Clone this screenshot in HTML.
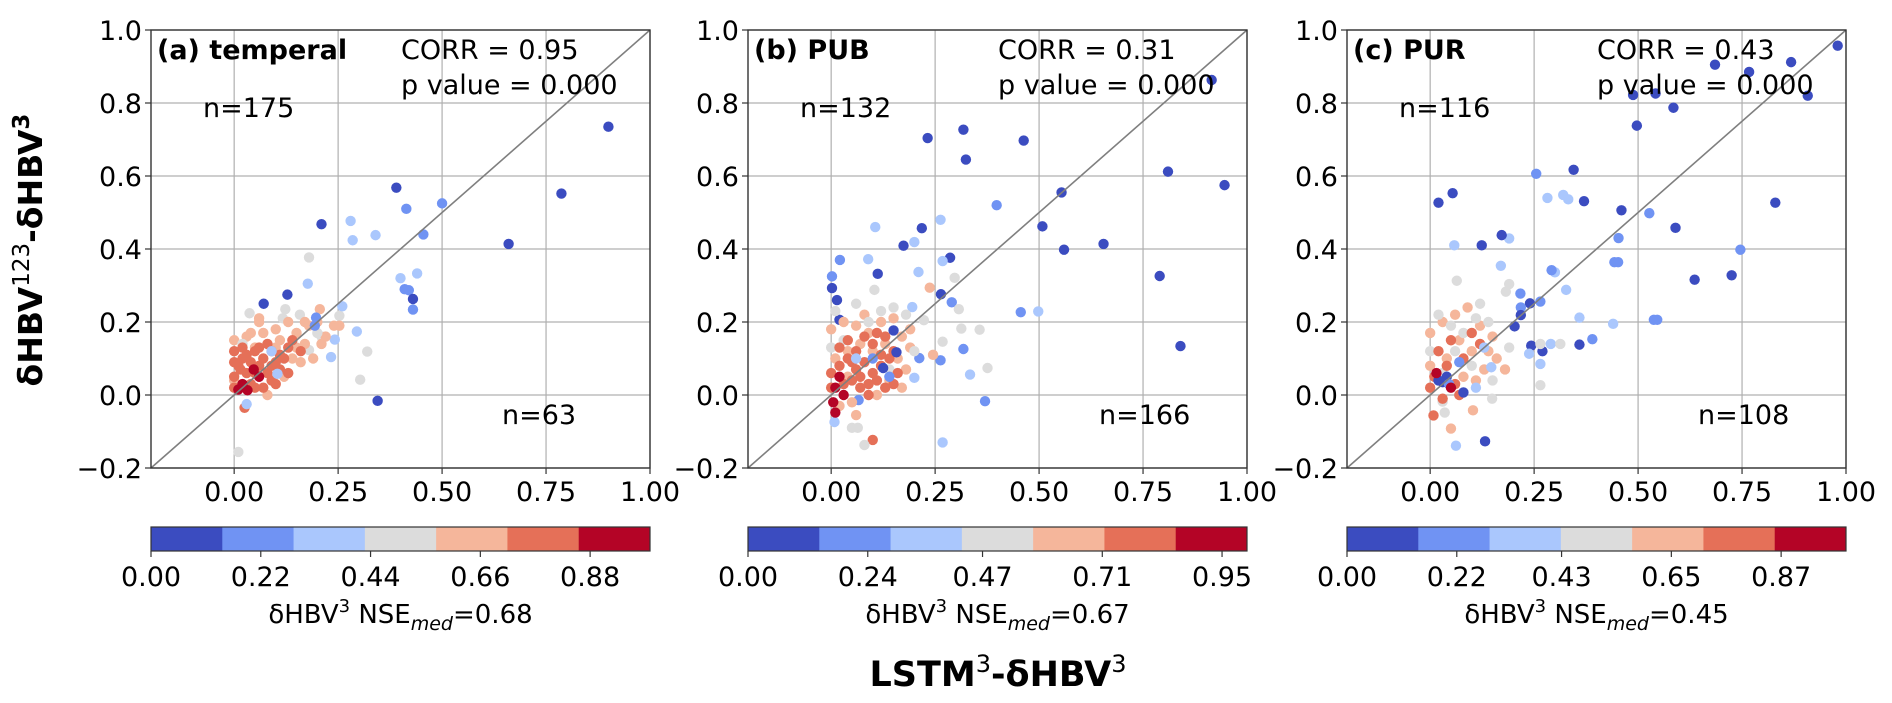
<!DOCTYPE html>
<html><head><meta charset="utf-8">
<style>
html,body{margin:0;padding:0;background:#fff;}
svg{display:block;font-family:"DejaVu Sans","Liberation Sans",sans-serif;}
</style></head>
<body>
<svg id="fig" width="1892" height="703" viewBox="0 0 1892 703" xmlns="http://www.w3.org/2000/svg">
<text x="0" y="0" transform="translate(42,250) rotate(-90)" text-anchor="middle" font-size="33" font-weight="bold" fill="#000">δHBV<tspan font-weight="normal" font-size="23" dy="-13">123</tspan><tspan dy="13">-δHBV</tspan><tspan font-size="23" dy="-13">3</tspan></text>
<text x="998" y="686" text-anchor="middle" font-size="35" font-weight="bold" fill="#000">LSTM<tspan font-size="24" font-weight="normal" dy="-14">3</tspan><tspan dy="14">-δHBV</tspan><tspan font-size="24" font-weight="normal" dy="-14">3</tspan></text>
</svg>
<script>
const colors = ["#3b4cc0","#7093f3","#aac7fd","#dcdcdc","#f5b69b","#e57058","#b40426"];
const xTicks = [0, 0.25, 0.5, 0.75, 1.0];
const xTickLabels = ["0.00","0.25","0.50","0.75","1.00"];
const yTicks = [-0.2, 0, 0.2, 0.4, 0.6, 0.8, 1.0];
const yTickLabels = ["\u22120.2","0.0","0.2","0.4","0.6","0.8","1.0"];
const panelTitles = ["(a) temperal","(b) PUB","(c) PUR"];
const corrLabels = ["CORR = 0.95","CORR = 0.31","CORR = 0.43"];
const pLabels = ["p value = 0.000","p value = 0.000","p value = 0.000"];
const nUpper = ["n=175","n=132","n=116"];
const nLower = ["n=63","n=166","n=108"];
const cbTicksA = [0,0.22,0.44,0.66,0.88];
const cbTicksB = [0,0.24,0.47,0.71,0.95];
const cbTicksC = [0,0.22,0.43,0.65,0.87];
const cbLabels = ["0.68","0.67","0.45"];

// [x, y, colorClass]
const pointsA = [
[0.90,0.735,0],[0.787,0.552,0],[0.66,0.414,0],[0.39,0.568,0],[0.414,0.51,1],[0.50,0.525,1],[0.455,0.44,1],[0.21,0.468,0],[0.28,0.477,2],[0.285,0.424,2],[0.34,0.438,2],[0.40,0.32,2],[0.44,0.333,2],[0.41,0.29,1],[0.42,0.287,1],[0.43,0.263,0],[0.43,0.234,1],[0.345,-0.016,0],[0.18,0.377,3],[0.177,0.305,2],[0.128,0.275,0],[0.071,0.25,0],[0.037,0.224,3],[0.123,0.235,3],[0.117,0.21,3],[0.158,0.22,3],[0.253,0.217,3],[0.295,0.174,2],[0.242,0.152,2],[0.233,0.104,2],[0.21,0.16,3],[0.32,0.119,3],[0.303,0.042,3],[0.18,0.123,3],[0.01,-0.156,3],
[0.0,0.15,4],[0.03,0.16,4],[0.07,0.17,4],[0.1,0.18,4],[0.13,0.2,4],[0.15,0.17,4],[0.18,0.19,4],[0.2,0.2,4],[0.22,0.16,4],[0.24,0.19,4],[0.206,0.235,4],[0.17,0.14,4],[0.14,0.1,4],[0.11,0.15,4],[0.06,0.2,4],[0.04,0.17,4],[0.21,0.14,4],[0.19,0.1,4],[0.16,0.09,4],[0.12,0.05,4],[0.08,0.0,4],[0.05,0.13,4],[0.1,0.13,4],[0.253,0.19,4],[0.0,0.04,4],[0.17,0.2,4],[0.06,0.21,4],[0.15,0.13,4],[0.02,0.14,3],[0.11,0.1,3],[0.2,0.17,3],
[0,0.05,5],[0.01,0.08,5],[0.02,0.1,5],[0.03,0.06,5],[0.04,0.09,5],[0.05,0.12,5],[0.0,0.12,5],[0.06,0.08,5],[0.07,0.1,5],[0.08,0.06,5],[0.09,0.04,5],[0.1,0.09,5],[0.11,0.07,5],[0.12,0.1,5],[0.02,0.13,5],[0.04,0.03,5],[0.07,0.02,5],[0.09,0.12,5],[0.13,0.13,5],[0.05,0.02,5],[0.0,0.09,5],[0.03,0.11,5],[0.08,0.14,5],[0.1,0.03,5],[0.06,0.13,5],[0.015,0.07,5],[0.11,0.11,5],[0.025,-0.035,5],[0.14,0.15,5],[0.16,0.12,5],[0.09,0.08,5],[0.0,0.02,5],[0.05,0.06,5],[0.13,0.06,5],
[0.194,0.19,1],[0.197,0.212,1],[0.26,0.243,2],[0.104,0.058,2],[0.09,0.12,2],[0.03,-0.025,2],
[0.01,0.015,6],[0.032,0.013,6],[0.047,0.07,6],[0.02,0.03,6],[0.06,0.05,6]
];
const pointsB = [
[0.915,0.863,0],[0.946,0.575,0],[0.81,0.612,0],[0.79,0.326,0],[0.84,0.134,0],[0.655,0.414,0],[0.554,0.555,0],[0.56,0.398,0],[0.508,0.462,0],[0.463,0.697,0],[0.318,0.727,0],[0.324,0.645,0],[0.232,0.704,0],[0.218,0.457,0],[0.174,0.409,0],[0.286,0.376,0],[0.398,0.52,1],[0.498,0.229,2],[0.456,0.227,1],[0.263,0.48,2],[0.2,0.419,2],[0.106,0.46,2],[0.021,0.37,1],[0.089,0.372,2],[0.112,0.332,0],[0.002,0.325,1],[0.002,0.293,0],[0.014,0.26,0],[0.02,0.206,0],[0.104,0.288,3],[0.21,0.337,2],[0.297,0.321,3],[0.268,0.367,2],[0.237,0.294,4],[0.264,0.276,0],[0.29,0.254,1],[0.307,0.235,3],[0.195,0.241,2],[0.223,0.205,3],[0.313,0.182,3],[0.357,0.179,3],[0.268,0.146,3],[0.318,0.126,1],[0.263,0.095,1],[0.212,0.101,1],[0.245,0.11,4],[0.334,0.056,2],[0.376,0.074,3],[0.37,-0.017,1],[0.268,-0.13,2],[0.1,-0.123,5],[0.08,-0.137,3],[0.05,-0.09,3],[0.064,-0.09,3],[0.008,-0.074,2],[0.06,-0.055,4],[0.066,-0.014,1],[0.2,0.047,2],
[0.0,0.18,4],[0.03,0.2,4],[0.06,0.19,4],[0.09,0.17,4],[0.12,0.2,4],[0.15,0.21,4],[0.17,0.16,4],[0.19,0.18,4],[0.13,0.14,4],[0.1,0.12,4],[0.07,0.14,4],[0.04,0.12,4],[0.01,0.1,4],[0.16,0.1,4],[0.18,0.07,4],[0.14,0.04,4],[0.11,0.0,4],[0.05,-0.02,4],[0.02,-0.03,4],[0.17,0.02,4],[0.08,0.22,4],[0.19,0.13,4],[0.04,0.05,4],
[0.06,0.25,3],[0.03,0.15,3],[0.12,0.23,3],[0.15,0.24,3],[0.18,0.22,3],[0.01,0.23,3],[0.09,0.2,3],[0.2,0.12,3],[0.14,0.07,3],[0.0,0.13,3],
[0.0,0.06,5],[0.02,0.08,5],[0.04,0.1,5],[0.06,0.07,5],[0.08,0.09,5],[0.1,0.06,5],[0.12,0.08,5],[0.14,0.1,5],[0.16,0.06,5],[0.03,0.03,5],[0.05,0.04,5],[0.07,0.02,5],[0.09,0.03,5],[0.11,0.04,5],[0.13,0.02,5],[0.15,0.12,5],[0.1,0.14,5],[0.06,0.12,5],[0.02,0.13,5],[0.08,0.16,5],[0.12,0.11,5],[0.04,0.15,5],[0.0,0.02,5],[0.07,0.05,5],[0.13,0.16,5],[0.09,0.0,5],[0.11,0.17,5],[0.05,0.09,5],[0.15,0.03,5],
[0.157,0.117,0],[0.125,0.074,0],[0.15,0.177,0],[0.1,0.1,1],[0.14,0.05,1],[0.06,0.1,2],
[0.01,0.02,6],[0.02,0.05,6],[0.03,0.0,6],[0.005,-0.02,6],[0.01,-0.048,6]
];
const pointsC = [
[0.98,0.957,0],[0.868,0.912,0],[0.908,0.82,0],[0.767,0.885,0],[0.685,0.905,0],[0.542,0.826,0],[0.488,0.822,0],[0.585,0.787,0],[0.497,0.738,0],[0.83,0.527,0],[0.746,0.398,1],[0.725,0.328,0],[0.636,0.316,0],[0.59,0.458,0],[0.527,0.498,1],[0.46,0.506,0],[0.453,0.43,1],[0.443,0.364,1],[0.452,0.364,1],[0.538,0.206,1],[0.546,0.206,1],[0.44,0.195,2],[0.39,0.153,1],[0.359,0.138,0],[0.359,0.212,2],[0.345,0.617,0],[0.37,0.531,0],[0.32,0.548,2],[0.332,0.536,2],[0.282,0.54,2],[0.255,0.606,1],[0.3,0.336,2],[0.292,0.342,1],[0.327,0.288,2],[0.265,0.256,1],[0.24,0.251,0],[0.218,0.24,1],[0.218,0.219,0],[0.203,0.188,0],[0.243,0.135,0],[0.27,0.12,0],[0.29,0.14,2],[0.265,0.14,3],[0.313,0.14,3],[0.238,0.113,2],[0.265,0.085,2],[0.265,0.027,3],[0.217,0.278,1],[0.19,0.304,3],[0.182,0.283,3],[0.17,0.354,2],[0.19,0.429,2],[0.172,0.438,0],[0.124,0.41,0],[0.058,0.41,2],[0.054,0.553,0],[0.02,0.527,0],[0.064,0.313,3],[0.132,-0.127,0],[0.062,-0.139,2],[0.05,-0.092,4],[0.008,-0.056,5],[0.103,-0.042,4],[0.149,-0.01,3],[0.035,-0.048,3],[0.03,-0.018,3],
[0.0,0.17,4],[0.03,0.2,4],[0.06,0.22,4],[0.09,0.24,4],[0.12,0.19,4],[0.15,0.16,4],[0.1,0.12,4],[0.07,0.15,4],[0.04,0.1,4],[0.13,0.07,4],[0.16,0.1,4],[0.11,0.04,4],[0.18,0.07,4],[0.0,0.08,4],[0.14,0.12,4],[0.08,0.05,4],
[0.02,0.22,3],[0.05,0.19,3],[0.08,0.17,3],[0.11,0.21,3],[0.14,0.2,3],[0.06,0.12,3],[0.1,0.08,3],[0.0,0.12,3],[0.15,0.04,3],[0.19,0.13,3],[0.03,0.06,3],[0.12,0.25,3],
[0.01,0.05,5],[0.04,0.08,5],[0.06,0.03,5],[0.08,0.1,5],[0.02,0.12,5],[0.05,0.15,5],[0.1,0.17,5],[0.07,0.0,5],[0.03,-0.01,5],[0.12,0.14,5],[0.0,0.02,5],
[0.147,0.076,2],[0.04,0.05,0],[0.03,0.035,0],[0.045,0.03,1],[0.02,0.04,0],[0.08,0.007,0],[0.11,0.02,2],[0.07,0.09,1],[0.13,0.13,2],
[0.015,0.06,6],[0.05,0.02,6]
];

const svg = document.getElementById('fig');
const NS = "http://www.w3.org/2000/svg";
const PL = [151, 748, 1347], PW = 499, PT = 30, PB = 468;
const CBT = 527, CBB = 551;
const allPoints = [pointsA, pointsB, pointsC];
const allCb = [cbTicksA, cbTicksB, cbTicksC];

function mk(tag, attrs, parent){
  const e = document.createElementNS(NS, tag);
  for (const k in attrs) e.setAttribute(k, attrs[k]);
  (parent || svg).appendChild(e);
  return e;
}

for (let p = 0; p < 3; p++) {
  const L = PL[p];
  const sx = v => L + (v + 0.2) / 1.2 * PW;
  const sy = v => PB - (v + 0.2) / 1.2 * (PB - PT);
  const g = mk('g', {});
  
  
  xTicks.forEach((t, i) => {
    const l = mk('line', {x1:sx(t), x2:sx(t), y1:PT, y2:PB, stroke:'#b0b0b0', 'stroke-width':1.2}, g);
    
    
    mk('line', {x1:sx(t), x2:sx(t), y1:PB, y2:PB+6, stroke:'#333', 'stroke-width':1.2}, g);
    const tx = mk('text', {x:sx(t), y:PB+33, 'text-anchor':'middle', 'font-size':27, fill:'#000'}, g);
    tx.textContent = xTickLabels[i];
    
    
  });
  yTicks.forEach((t, i) => {
    const l = mk('line', {x1:L, x2:L+PW, y1:sy(t), y2:sy(t), stroke:'#b0b0b0', 'stroke-width':1.2}, g);
    
    
    mk('line', {x1:L-6, x2:L, y1:sy(t), y2:sy(t), stroke:'#333', 'stroke-width':1.2}, g);
    const tx = mk('text', {x:L-9, y:sy(t)+10, 'text-anchor':'end', 'font-size':27, fill:'#000'}, g);
    tx.textContent = yTickLabels[i];
    
    
  });
  allPoints[p].forEach(pt => {
    const c = mk('circle', {cx:sx(pt[0]), cy:sy(pt[1]), r:5.2, fill:colors[pt[2]]}, g);
    
    
  });
  const d = mk('line', {x1:sx(-0.2), y1:sy(-0.2), x2:sx(1.0), y2:sy(1.0), stroke:'#7f7f7f', 'stroke-width':1.6}, g);
  
  
  const fr = mk('rect', {x:L, y:PT, width:PW, height:PB-PT, fill:'none', stroke:'#333', 'stroke-width':1.4}, g);
  
  
  const t1 = mk('text', {x:L+6, y:PT+29, 'font-size':27, 'font-weight':'bold', fill:'#000'}, g);
  t1.textContent = panelTitles[p];
  
  
  const t2 = mk('text', {x:L+250, y:PT+29, 'font-size':27, fill:'#000'}, g);
  t2.textContent = corrLabels[p];
  
  
  const t3 = mk('text', {x:L+250, y:PT+64, 'font-size':27, fill:'#000'}, g);
  t3.textContent = pLabels[p];
  
  
  const t4 = mk('text', {x:L+52, y:PT+87, 'font-size':27, fill:'#000'}, g);
  t4.textContent = nUpper[p];
  
  
  const t5 = mk('text', {x:L+351, y:PT+394, 'font-size':27, fill:'#000'}, g);
  t5.textContent = nLower[p];
  
  
  const cb = mk('g', {}, g);
  
  
  for (let k = 0; k < 7; k++) {
    mk('rect', {x:L + k*PW/7, y:CBT, width:PW/7+0.5, height:CBB-CBT, fill:colors[k]}, cb);
  }
  mk('rect', {x:L, y:CBT, width:PW, height:CBB-CBT, fill:'none', stroke:'#333', 'stroke-width':1.2}, cb);
  allCb[p].forEach(v => {
    const x = L + v*PW;
    mk('line', {x1:x, x2:x, y1:CBB, y2:CBB+6, stroke:'#333', 'stroke-width':1.2}, cb);
    const tx = mk('text', {x:x, y:CBB+35, 'text-anchor':'middle', 'font-size':27, fill:'#000'}, cb);
    tx.textContent = v.toFixed(2);
    
    
  });
  const cl = mk('text', {x:L+PW/2, y:623, 'text-anchor':'middle', 'font-size':26, fill:'#000'}, cb);
  cl.innerHTML = 'δHBV<tspan font-size="18" dy="-11">3</tspan><tspan dy="11"> NSE</tspan><tspan font-style="italic" font-size="19" dy="7">med</tspan><tspan dy="-7">=' + cbLabels[p] + '</tspan>';
  
  
}
</script>
</body></html>
